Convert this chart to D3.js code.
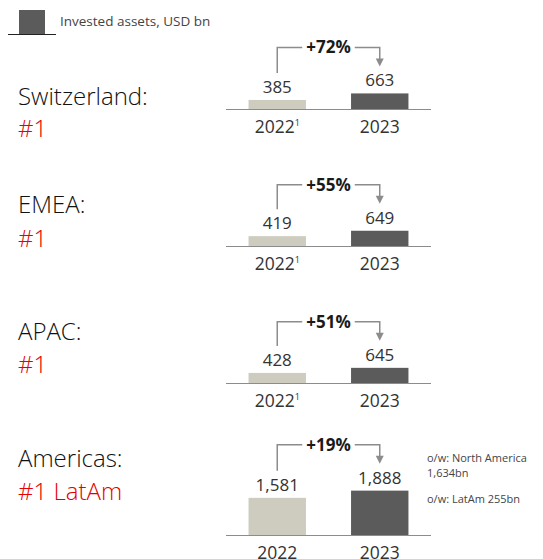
<!DOCTYPE html>
<html>
<head>
<meta charset="utf-8">
<script src="https://cdn.jsdelivr.net/npm/d3@7"></script>
<style>
  body { margin: 0; background: #fff; }
  svg { display: block; font-family: "Open Sans", sans-serif; }
</style>
</head>
<body>
<div id="chart"></div>
<script>
// data
const regions = ['Switzerland:', 'EMEA:', 'APAC:', 'Americas:'];
const ranks = ['#1', '#1', '#1', '#1 LatAm'];
const years = ['2022', '2023'];
const footnoted = [true, true, true, false];
const assets2022 = [385, 419, 428, 1581];
const assets2023 = [663, 649, 645, 1888];
const growth = ['+72%', '+55%', '+51%', '+19%'];
const legendLabel = 'Invested assets, USD bn';
const americasNotes = ['o/w: North America', '1,634bn', 'o/w: LatAm 255bn'];

const width = 543;
const height = 559;

const col2022 = '#cdccbf';
const col2023 = '#5b5b5b';
const lineCol = '#8c8c8c';
const red = '#e60000';

// layout per panel
const baselines = [109, 246, 383, 535];
const titleY = [105, 213, 340, 467];
const rankY = [137, 247, 373, 500];

const svg = d3.select('#chart')
    .append('svg')
        .attr('width', width)
        .attr('height', height);

// scales
const x = d3.scaleBand()
    .domain(years)
    .range([226, 431])
    .paddingInner(0.44)
    .paddingOuter(0.22);
const barH = d3.scaleLinear()
    .domain([0, 2000])
    .range([0, 47]);
const fmt = d3.format(',');

// legend
const legend = svg.append('g');
legend.append('rect')
    .attr('x', 19).attr('y', 10)
    .attr('width', 26).attr('height', 24)
    .attr('fill', col2023);
legend.append('line')
    .attr('x1', 8).attr('x2', 56)
    .attr('y1', 34.5).attr('y2', 34.5)
    .attr('stroke', '#222').attr('stroke-width', 1);
legend.append('text')
    .attr('x', 60).attr('y', 26)
    .attr('font-size', 13.5)
    .attr('fill', '#444')
    .text(legendLabel);

// panels
regions.forEach((name, i) => {
    const base = baselines[i];
    const vals = [assets2022[i], assets2023[i]];
    const g = svg.append('g');

    // titles
    g.append('text')
        .attr('x', 18).attr('y', titleY[i])
        .attr('font-size', 24)
        .attr('font-weight', 350)
        .attr('fill', '#111')
        .text(name);
    g.append('text')
        .attr('x', 18).attr('y', rankY[i])
        .attr('font-size', 24)
        .attr('font-weight', 350)
        .attr('fill', red)
        .text(ranks[i]);

    // bars
    g.selectAll('rect.bar')
        .data(vals)
        .join('rect')
            .attr('class', 'bar')
            .attr('x', (d, j) => x(years[j]))
            .attr('y', d => base - barH(d))
            .attr('width', x.bandwidth())
            .attr('height', d => barH(d))
            .attr('fill', (d, j) => j === 0 ? col2022 : col2023);

    // baseline axis
    g.append('line')
        .attr('x1', x.range()[0]).attr('x2', x.range()[1])
        .attr('y1', base + 0.5).attr('y2', base + 0.5)
        .attr('stroke', lineCol).attr('stroke-width', 1);

    // value labels
    g.selectAll('text.val')
        .data(vals)
        .join('text')
            .attr('class', 'val')
            .attr('x', (d, j) => x(years[j]) + x.bandwidth() / 2)
            .attr('y', d => base - barH(d) - 7)
            .attr('text-anchor', 'middle')
            .attr('font-size', 17)
            .attr('fill', '#333')
            .text(d => fmt(d));

    // year labels
    const yl = g.selectAll('text.yr')
        .data(years)
        .join('text')
            .attr('class', 'yr')
            .attr('x', d => x(d) + x.bandwidth() / 2)
            .attr('y', base + 24)
            .attr('text-anchor', 'middle')
            .attr('font-size', 17.5)
            .attr('fill', '#333')
            .text(d => d);
    if (footnoted[i]) {
        yl.filter((d, j) => j === 0)
            .append('tspan')
                .attr('font-size', 9)
                .attr('dy', -7)
                .text('1');
    }

    // growth bracket
    const cx1 = x(years[0]) + x.bandwidth() / 2;
    const cx2 = x(years[1]) + x.bandwidth() / 2;
    const lab1 = base - barH(vals[0]) - 7;
    const lab2 = base - barH(vals[1]) - 7;
    const top = lab2 - 39;
    const mid = (cx1 + cx2) / 2;

    const gt = g.append('text')
        .attr('x', mid).attr('y', top)
        .attr('dy', '0.35em')
        .attr('text-anchor', 'middle')
        .attr('font-size', 17)
        .attr('font-weight', 'bold')
        .attr('fill', '#1a1a1a')
        .text(growth[i]);
    const tw = gt.node().getComputedTextLength();

    g.append('path')
        .attr('d', `M${cx1},${lab1 - 20}V${top}H${mid - tw / 2 - 4}`)
        .attr('fill', 'none')
        .attr('stroke', lineCol).attr('stroke-width', 1.5);
    g.append('path')
        .attr('d', `M${mid + tw / 2 + 4},${top}H${cx2}V${lab2 - 27}`)
        .attr('fill', 'none')
        .attr('stroke', lineCol).attr('stroke-width', 1.5);
    g.append('path')
        .attr('d', `M${cx2 - 4},${lab2 - 28}L${cx2 + 4},${lab2 - 28}L${cx2},${lab2 - 20}Z`)
        .attr('fill', lineCol);
});

// Americas side notes
const nb = baselines[3];
svg.append('g')
    .selectAll('text')
    .data(americasNotes)
    .join('text')
        .attr('x', 427)
        .attr('y', (d, j) => nb + [-73, -58, -32][j])
        .attr('font-size', 11)
        .attr('fill', '#444')
        .text(d => d);
</script>
</body>
</html>
